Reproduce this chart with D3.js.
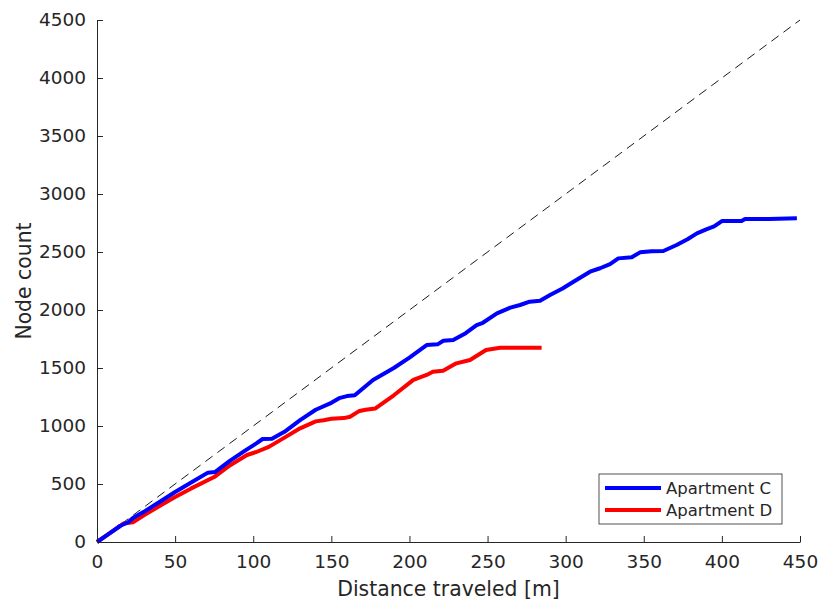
<!DOCTYPE html>
<html>
<head>
<meta charset="utf-8">
<script src="https://cdn.jsdelivr.net/npm/d3@7"></script>
<style>
  html, body { margin: 0; padding: 0; background: #fff; }
  svg { display: block; }
  text { font-family: "DejaVu Sans", sans-serif; fill: #262626; }
</style>
</head>
<body>
<svg id="chart" width="819" height="601"></svg>
<script>
// Distance traveled [m] vs. node count for two apartments
const xTicks = [0, 50, 100, 150, 200, 250, 300, 350, 400, 450];
const yTicks = [0, 500, 1000, 1500, 2000, 2500, 3000, 3500, 4000, 4500];

const seriesNames = ["Apartment C", "Apartment D"];
const seriesColors = ["#0000ff", "#ff0000"];

const apartmentCDist = [0, 8, 15, 20, 23, 30, 40, 50, 60, 71, 75.5, 85, 95, 102, 106, 112, 120, 130, 140, 150, 155, 160, 165, 176.7, 190, 200, 211, 218, 221.7, 228, 236, 243, 247, 256, 264.6, 270.8, 277, 283.6, 290, 298, 305, 315.6, 322, 328.4, 333.7, 342.3, 347.6, 355, 362.5, 371, 378, 384, 390, 395, 400, 412.6, 414.8, 430, 448];
const apartmentCCount = [0, 75, 140, 170, 207, 260, 345, 431, 510, 598, 603, 700, 790, 850, 888, 890, 950, 1050, 1140, 1200, 1240, 1258, 1265, 1397, 1500, 1590, 1698, 1704, 1735, 1741, 1800, 1870, 1890, 1971, 2020, 2043, 2072, 2080, 2129, 2185, 2244, 2330, 2360, 2396, 2445, 2454, 2497, 2507, 2509, 2560, 2610, 2661, 2695, 2720, 2767, 2767, 2784, 2785, 2790];

const apartmentDDist = [0, 8, 15, 17, 23, 30, 40, 50, 60, 75, 85, 96, 102, 110, 120, 130, 140, 145, 150, 158, 162, 168, 172, 178, 190, 202.5, 211, 215, 221.5, 230, 238.8, 249, 258, 270, 284.6];
const apartmentDCount = [0, 75, 140, 160, 170, 230, 310, 388, 460, 560, 660, 750, 776, 820, 900, 980, 1040, 1050, 1062, 1068, 1080, 1130, 1140, 1150, 1265, 1397, 1440, 1468, 1477, 1540, 1569, 1655, 1675, 1675, 1675];

const svg = d3.select("#chart");
const margin = { left: 97, right: 19, top: 20, bottom: 59 };
const W = 819, H = 601;

const x = d3.scaleLinear().domain([0, 450]).range([margin.left, W - margin.right]);
const y = d3.scaleLinear().domain([0, 4500]).range([H - margin.bottom, margin.top]);

// reference line: one node per 0.1 m
svg.append("line")
  .attr("x1", x(0)).attr("y1", y(0))
  .attr("x2", x(450)).attr("y2", y(4500))
  .attr("stroke", "#000").attr("stroke-width", 0.9)
  .attr("stroke-dasharray", "9,6");

const line = d3.line().x(d => x(d[0])).y(d => y(d[1]));
const seriesData = [
  d3.zip(apartmentCDist, apartmentCCount),
  d3.zip(apartmentDDist, apartmentDCount)
];

// draw D first, so C sits on top where they overlap
[1, 0].forEach(i => {
  svg.append("path")
    .datum(seriesData[i])
    .attr("d", line)
    .attr("fill", "none")
    .attr("stroke", seriesColors[i])
    .attr("stroke-width", 4)
    .attr("stroke-linejoin", "round");
});

// axes
const fmt = d3.format("d");
const xAxis = d3.axisBottom(x).tickValues(xTicks).tickFormat(fmt)
  .tickSizeInner(-6).tickSizeOuter(0).tickPadding(13);
const yAxis = d3.axisLeft(y).tickValues(yTicks).tickFormat(fmt)
  .tickSizeInner(-6).tickSizeOuter(0).tickPadding(11);

const gx = svg.append("g").attr("transform", `translate(0,${y(0)})`).call(xAxis);
const gy = svg.append("g").attr("transform", `translate(${x(0)},0)`).call(yAxis);

[gx, gy].forEach(g => {
  g.select(".domain").attr("stroke", "#262626").attr("stroke-width", 1);
  g.selectAll(".tick line").attr("stroke", "#262626").attr("stroke-width", 1);
  g.selectAll(".tick text").style("font-family", "DejaVu Sans, sans-serif")
    .style("font-size", "18.5px").attr("fill", "#262626");
});

// axis titles
svg.append("text")
  .attr("x", x(225)).attr("y", 596)
  .attr("text-anchor", "middle")
  .style("font-size", "20.4px")
  .text("Distance traveled [m]");

svg.append("text")
  .attr("transform", `translate(31,${y(2250)}) rotate(-90)`)
  .attr("text-anchor", "middle")
  .style("font-size", "20.4px")
  .text("Node count");

// legend
const lg = svg.append("g").attr("transform", "translate(599,474)");
lg.append("rect").attr("width", 183).attr("height", 50)
  .attr("fill", "#fff").attr("stroke", "#262626").attr("stroke-width", 0.8);
seriesNames.forEach((name, i) => {
  const yy = 14 + i * 22;
  lg.append("line").attr("x1", 6).attr("x2", 62).attr("y1", yy).attr("y2", yy)
    .attr("stroke", seriesColors[i]).attr("stroke-width", 4);
  lg.append("text").attr("x", 67).attr("y", yy + 6)
    .style("font-size", "16.5px").text(name);
});
</script>
</body>
</html>
